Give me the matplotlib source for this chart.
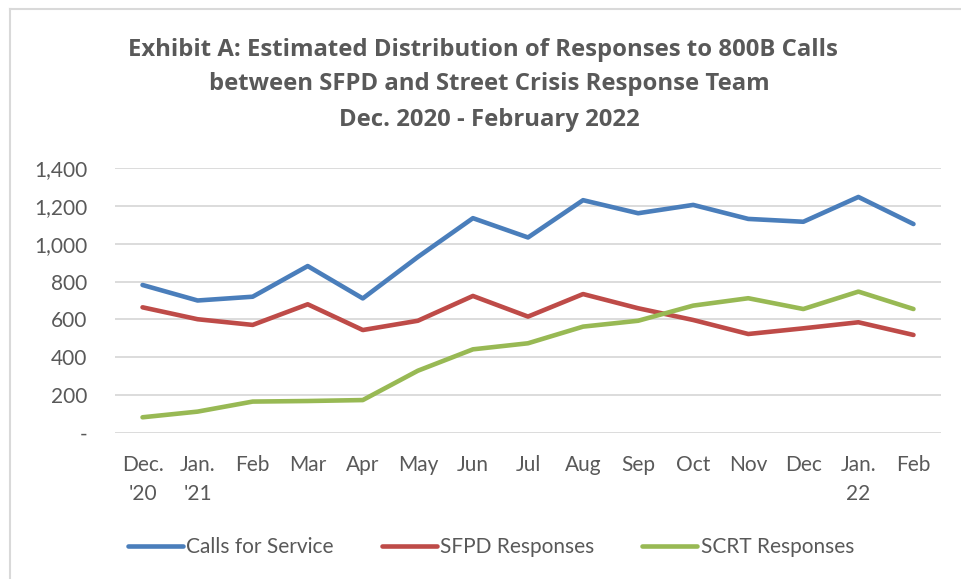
import matplotlib
matplotlib.use("Agg")
import matplotlib.pyplot as plt
from matplotlib.lines import Line2D

months = ["Dec.\n'20", "Jan.\n'21", "Feb", "Mar", "Apr", "May", "Jun", "Jul",
          "Aug", "Sep", "Oct", "Nov", "Dec", "Jan.\n22", "Feb"]
calls = [782, 700, 720, 882, 711, 930, 1135, 1033, 1230, 1161, 1205, 1131, 1116, 1247, 1104]
sfpd = [664, 601, 571, 680, 544, 593, 724, 615, 734, 659, 597, 523, 553, 585, 518]
scrt = [83, 113, 166, 169, 174, 329, 442, 474, 562, 593, 673, 712, 655, 747, 655]
series_names = ["Calls for Service", "SFPD Responses", "SCRT Responses"]
yticks = [0, 200, 400, 600, 800, 1000, 1200, 1400]
ytick_labels = ["-", "200", "400", "600", "800", "1,000", "1,200", "1,400"]

colors = ["#4a7ebb", "#be4b48", "#98b954"]
txt = "#595959"
W, H = 961, 579
fig = plt.figure(figsize=(W / 100, H / 100), dpi=100)
fig.patch.set_facecolor("white")

# chart border (top and left visible)
fig.add_artist(Line2D([10 / W, 1], [1 - 9 / H, 1 - 9 / H], color="#d9d9d9", lw=1.5))
fig.add_artist(Line2D([10 / W, 10 / W], [0, 1 - 9 / H], color="#d9d9d9", lw=1.5))

left, right, top, bottom = 115, 941, 168, 433
ax = fig.add_axes([left / W, 1 - bottom / H, (right - left) / W, (bottom - top) / H])

x = list(range(len(months)))
for vals, c, n in zip([calls, sfpd, scrt], colors, series_names):
    ax.plot(x, vals, color=c, lw=3.3, label=n, solid_capstyle="round", solid_joinstyle="round", zorder=3)

fs = 15
ax.set_xlim(-0.5, len(months) - 0.5)
ax.set_ylim(0, 1400)
ax.set_yticks(yticks)
ax.set_yticklabels(ytick_labels)
ax.set_xticks(x)
ax.set_xticklabels(months, linespacing=1.55, va="top")
for s in ax.spines.values():
    s.set_visible(False)
ax.grid(axis="y", color="#d9d9d9", lw=1.3, zorder=0)
ax.tick_params(axis="both", length=0, labelsize=fs, colors=txt)
ax.tick_params(axis="y", pad=20)
ax.tick_params(axis="x", pad=16)
for lab in ax.get_xticklabels() + ax.get_yticklabels():
    lab.set_fontfamily("Lato")

tfs = 17.2
fig.text(483 / W, 1 - 50 / H, "Exhibit A: Estimated Distribution of Responses to 800B Calls",
         ha="center", va="center", fontsize=tfs, fontweight="bold", color=txt, family="Open Sans")
fig.text(489 / W, 1 - 84 / H, "between SFPD and Street Crisis Response Team",
         ha="center", va="center", fontsize=tfs, fontweight="bold", color=txt, family="Open Sans")
fig.text(489 / W, 1 - 120 / H, "Dec. 2020 - February 2022",
         ha="center", va="center", fontsize=tfs, fontweight="bold", color=txt, family="Open Sans")

leg = fig.legend(loc="center", bbox_to_anchor=(491 / W, 1 - 547 / H), ncol=3, frameon=False,
                 handlelength=2.65, handletextpad=0.15, columnspacing=2.3,
                 prop={"family": "Lato", "size": fs})
for t in leg.get_texts():
    t.set_color(txt)
for h in leg.get_lines():
    h.set_linewidth(3.3)

fig.savefig("out.png", dpi=100, facecolor="white")
